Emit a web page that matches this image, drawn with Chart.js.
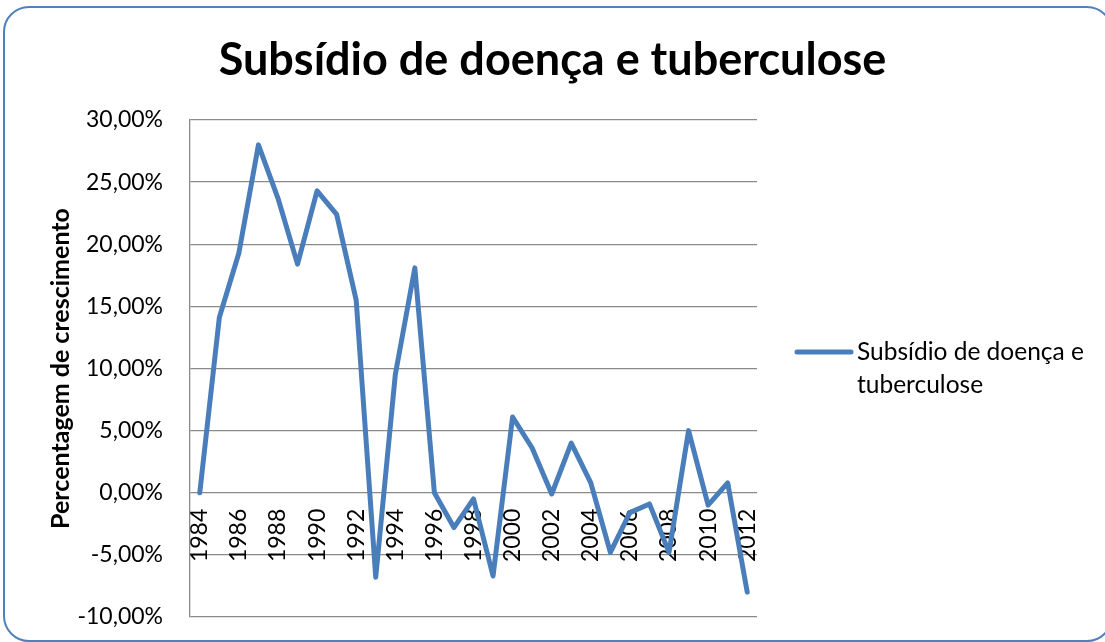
<!DOCTYPE html>
<html>
<head>
<meta charset="utf-8">
<script src="https://cdn.jsdelivr.net/npm/chart.js"></script>
<style>
  body { margin: 0; background: #fff; }
  #wrap { position: relative; width: 1105px; height: 642px; overflow: hidden; }
  #frame {
    position: absolute; left: 3px; top: 6px; width: 1106px; height: 632px;
    border: 2px solid #4f81bd; border-radius: 26px; pointer-events: none;
  }
</style>
</head>
<body>
<div id="wrap">
  <canvas id="growth" width="1105" height="642"></canvas>
  <div id="frame"></div>
</div>
<script>
const years = ['1984', '1985', '1986', '1987', '1988', '1989', '1990', '1991', '1992', '1993',
  '1994', '1995', '1996', '1997', '1998', '1999', '2000', '2001', '2002', '2003',
  '2004', '2005', '2006', '2007', '2008', '2009', '2010', '2011', '2012'];

// growth in %
const growth = [0.0, 14.1, 19.3, 28.0, 23.7, 18.4, 24.3, 22.4, 15.5, -6.8,
  9.5, 18.1, 0.0, -2.8, -0.5, -6.7, 6.1, 3.6, -0.1, 4.0,
  0.8, -4.8, -1.6, -0.9, -4.8, 5.0, -1.0, 0.8, -8.0];

const seriesName = 'Subsídio de doença e tuberculose';
const chartTitle = 'Subsídio de doença e tuberculose';
const axisTitle = 'Percentagem de crescimento';

const gridColor = '#8a8a8a';

// legend drawn by hand so the label can wrap on two lines
const sideLegend = {
  id: 'sideLegend',
  afterDraw(chart) {
    const ctx = chart.ctx;
    const ds = chart.data.datasets[0];
    const x0 = chart.chartArea.right + 40;
    const y0 = 352;
    ctx.save();
    ctx.strokeStyle = ds.borderColor;
    ctx.lineWidth = 5;
    ctx.lineCap = 'round';
    ctx.beginPath();
    ctx.moveTo(x0, y0);
    ctx.lineTo(x0 + 54, y0);
    ctx.stroke();

    ctx.font = '24.5px Lato';
    ctx.fillStyle = '#000';
    ctx.textBaseline = 'middle';
    const maxW = 1105 - (x0 + 60) - 8;
    const words = ds.label.split(' ');
    const lines = [];
    let cur = '';
    words.forEach(w => {
      const test = cur ? cur + ' ' + w : w;
      if (ctx.measureText(test).width > maxW && cur) {
        lines.push(cur);
        cur = w;
      } else {
        cur = test;
      }
    });
    lines.push(cur);
    lines.forEach((ln, i) => ctx.fillText(ln, x0 + 60, y0 + i * 33));
    ctx.restore();
  }
};

const config_growth = {
  type: 'line',
  data: {
    labels: years,
    datasets: [
      {
        label: seriesName,
        data: growth,
        borderColor: '#4a7ebb',
        borderWidth: 5,
        borderJoinStyle: 'round',
        borderCapStyle: 'round',
        pointRadius: 0,
        tension: 0,
        fill: false
      }
    ]
  },
  options: {
    responsive: false,
    animation: false,
    layout: {
      padding: { left: 0, right: 0, top: 0, bottom: 25 }
    },
    plugins: {
      legend: { display: false },
      tooltip: { enabled: false },
      title: {
        display: true,
        text: chartTitle,
        color: '#000',
        font: { family: 'Lato', size: 45, weight: 'bold' },
        padding: { top: 33, bottom: 33 }
      }
    },
    scales: {
      x: {
        position: { y: 0 },
        offset: true,
        grid: { display: false, drawTicks: false },
        border: { display: false },
        ticks: {
          autoSkip: false,
          minRotation: 90,
          maxRotation: 90,
          padding: 16,
          color: '#000',
          font: { family: 'Lato', size: 23 },
          callback: function (val, i) {
            return i % 2 === 0 ? this.getLabelForValue(val) : '';
          }
        },
        afterFit(scale) { scale.height = 0; }
      },
      y: {
        min: -10,
        max: 30,
        grid: { color: gridColor, lineWidth: 1.3, drawTicks: false },
        border: { display: true, color: gridColor, width: 1.3 },
        ticks: {
          stepSize: 5,
          padding: 27,
          color: '#000',
          font: { family: 'Lato', size: 23 },
          callback: v => v.toFixed(2).replace('.', ',') + '%'
        },
        title: {
          display: true,
          text: axisTitle,
          color: '#000',
          font: { family: 'Lato', size: 25, weight: 'bold' },
          padding: { top: 46 }
        },
        afterFit(scale) {
          scale.width = 190;
          // tick padding would otherwise push the plot edges in
          scale.paddingTop = 0;
          scale.paddingBottom = 0;
        }
      },
      // empty right-hand box that keeps room for the legend
      side: {
        type: 'linear',
        position: 'right',
        min: 0,
        max: 1,
        grid: { display: false },
        border: { display: false },
        ticks: { display: false },
        afterFit(scale) { scale.width = 348; }
      }
    }
  },
  plugins: [sideLegend]
};

const growthChart = new Chart(
  document.getElementById('growth'),
  config_growth
);
</script>
</body>
</html>
